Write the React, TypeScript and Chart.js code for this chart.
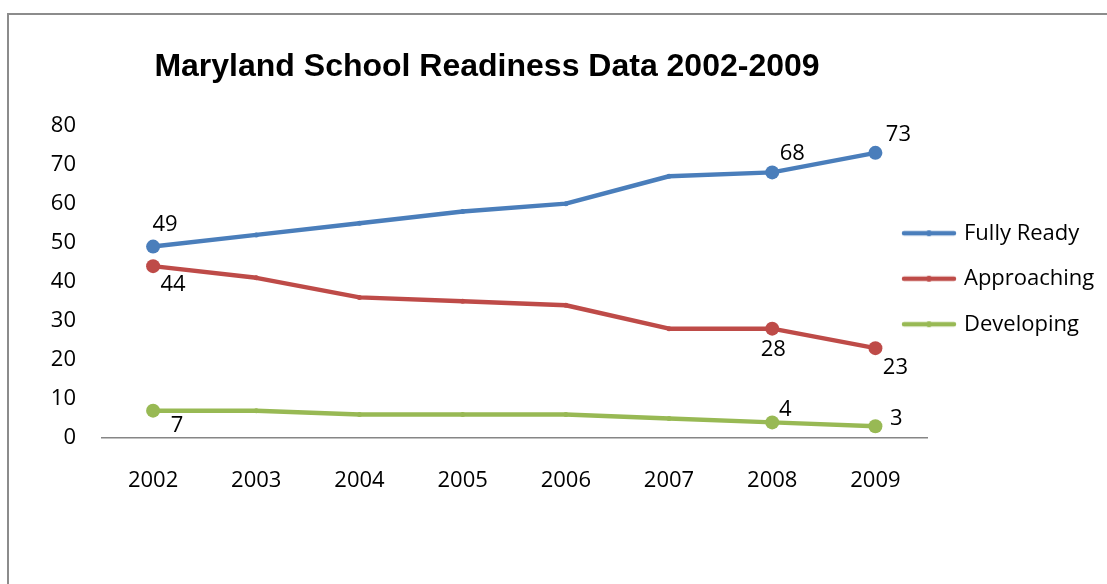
import React, { useEffect, useRef } from 'react';
import { Chart, registerables } from 'chart.js';

Chart.register(...registerables);

// ---------- data ----------
const titleText = 'Maryland School Readiness Data 2002-2009';
const years = ['2002', '2003', '2004', '2005', '2006', '2007', '2008', '2009'];
const seriesNames = ['Fully Ready', 'Approaching', 'Developing'];
const fullyReady = [49, 52, 55, 58, 60, 67, 68, 73];
const approaching = [44, 41, 36, 35, 34, 28, 28, 23];
const developing = [7, 7, 6, 6, 6, 5, 4, 3];
const labeledPoints = [0, 6, 7];
const yAxisMin = 0;
const yAxisMax = 80;
const yAxisStep = 10;

// ---------- style ----------
const colors = ['#4a7ebb', '#be4b48', '#98b954'];
const labelOffsets = [
  [[12, -21.5], [20, -18.5], [23, -18.5]],
  [[20, 18.5], [1, 21.5], [20, 19.5]],
  [[24, 15.5], [13, -12.5], [21, -7.5]],
];
const FONT = "'Open Sans', 'Noto Sans', sans-serif";
const LEGEND_SHIFT_X = 45.5;
const LEGEND_SHIFT_Y = 3;

function makeMarker(color: string): HTMLCanvasElement {
  const c = document.createElement('canvas');
  c.width = 56;
  c.height = 12;
  const g = c.getContext('2d')!;
  g.strokeStyle = color;
  g.lineWidth = 4.5;
  g.lineCap = 'round';
  g.beginPath();
  g.moveTo(3, 6);
  g.lineTo(53, 6);
  g.stroke();
  g.fillStyle = color;
  g.beginPath();
  g.arc(28, 6, 3, 0, Math.PI * 2);
  g.fill();
  return c;
}

const valueLabelPlugin = {
  id: 'valueLabels',
  afterDatasetsDraw(chart: any) {
    const ctx = chart.ctx;
    ctx.save();
    ctx.font = `22px ${FONT}`;
    ctx.fillStyle = '#000';
    ctx.textAlign = 'center';
    ctx.textBaseline = 'middle';
    chart.data.datasets.forEach((ds: any, di: number) => {
      const meta = chart.getDatasetMeta(di);
      labeledPoints.forEach((idx, k) => {
        const el = meta.data[idx];
        if (!el) return;
        const [dx, dy] = labelOffsets[di][k];
        ctx.fillText(String(ds.data[idx]), el.x + dx, el.y + dy);
      });
    });
    ctx.restore();
  },
};

const legendShiftPlugin = {
  id: 'legendShift',
  afterLayout(chart: any) {
    const l = chart.legend;
    if (!l) return;
    l.left -= LEGEND_SHIFT_X;
    l.width += LEGEND_SHIFT_X;
    l.top -= LEGEND_SHIFT_Y;
    l.bottom -= LEGEND_SHIFT_Y;
  },
};

export default function App() {
  const ref = useRef<HTMLCanvasElement | null>(null);

  useEffect(() => {
    document.body.style.margin = '0';
    document.body.style.overflow = 'hidden';
    if (!ref.current) return;
    const markers = colors.map(makeMarker);
    const seriesData = [fullyReady, approaching, developing];
    const chart = new Chart(ref.current, {
      type: 'line',
      data: {
        labels: years,
        datasets: seriesData.map((d, i) => ({
          label: seriesNames[i],
          data: d,
          borderColor: colors[i],
          backgroundColor: colors[i],
          borderWidth: 4.5,
          borderCapStyle: 'round',
          borderJoinStyle: 'round',
          tension: 0,
          pointRadius: (c: any) => (labeledPoints.includes(c.dataIndex) ? 7 : 2.5),
          pointBackgroundColor: colors[i],
          pointBorderColor: colors[i],
          pointBorderWidth: 0,
          clip: false,
        })) as any,
      },
      options: {
        responsive: false,
        animation: false,
        events: [],
        layout: { padding: 0 },
        plugins: {
          tooltip: { enabled: false },
          title: {
            display: true,
            text: titleText,
            color: '#000',
            font: { family: "'Liberation Sans', Arial, sans-serif", size: 32, weight: 'bold', lineHeight: 1.2 },
            padding: { top: 47.8, bottom: 39.3 },
          },
          legend: {
            position: 'right',
            align: 'center',
            fullSize: false,
            maxWidth: 180,
            labels: {
              usePointStyle: true,
              pointStyleWidth: 48,
              padding: 23.5,
              color: '#000',
              font: { family: FONT, size: 22 },
              generateLabels: (ch: any) =>
                Chart.defaults.plugins.legend.labels
                  .generateLabels(ch)
                  .map((l: any, i: number) => ({ ...l, pointStyle: markers[i], fontColor: '#000' })),
            },
          },
        },
        scales: {
          x: {
            type: 'category',
            offset: true,
            grid: { display: false, drawTicks: false },
            border: { display: true, color: '#868686', width: 1.5 },
            ticks: { color: '#000', font: { family: FONT, size: 22 }, padding: 30, maxRotation: 0, autoSkip: false },
            afterFit: (s: any) => {
              s.height = 146;
            },
          },
          y: {
            min: yAxisMin,
            max: yAxisMax,
            grid: { display: false, drawTicks: false },
            border: { display: false },
            ticks: { stepSize: yAxisStep, color: '#000', font: { family: FONT, size: 22 }, padding: 25.5 },
            afterFit: (s: any) => {
              s.width = 234.5;
            },
          },
        },
      } as any,
      plugins: [valueLabelPlugin, legendShiftPlugin],
    });
    return () => chart.destroy();
  }, []);

  return (
    <div style={{ position: 'fixed', left: 0, top: 0, width: 1107, height: 584, overflow: 'hidden', background: '#fff' }}>
      <canvas
        ref={ref}
        width={1240}
        height={584}
        style={{ position: 'absolute', left: -133, top: 0, width: 1240, height: 584 }}
      />
      <div
        style={{
          position: 'absolute',
          left: 7,
          top: 13,
          width: 1300,
          height: 700,
          borderLeft: '2px solid #8c8c8c',
          borderTop: '2px solid #8c8c8c',
          pointerEvents: 'none',
        }}
      />
    </div>
  );
}
